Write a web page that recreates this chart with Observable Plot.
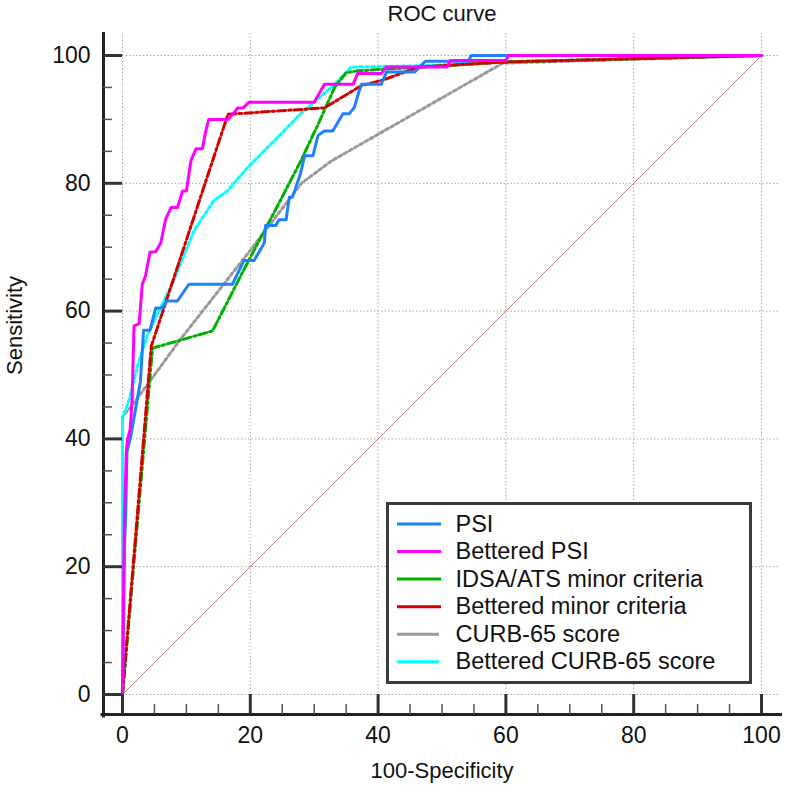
<!DOCTYPE html>
<html>
<head>
<meta charset="utf-8">
<script src="https://cdn.jsdelivr.net/npm/d3@7"></script>
<script src="https://cdn.jsdelivr.net/npm/@observablehq/plot@0.6"></script>
<style>
  body { margin: 0; background: #fff; }
  #wrap { position: relative; width: 788px; height: 786px; font-family: "Liberation Sans", Arial, sans-serif; }
  #title { margin-left: 96px; width: 692px; height: 28px; line-height: 28px; text-align: center; font-size: 22px; color: #111; }
</style>
</head>
<body>
<div id="wrap">
  <div id="title">ROC curve</div>
  <div id="chart"></div>
</div>
<script>
// ---- data (x = 100-Specificity, y = Sensitivity) ----
const psi = [[0,0],[0.3,23],[0.5,28],[0.7,38],[1.25,40.2],[2,44.4],[2.8,49],[3.3,57],[4.3,57],[5.2,60.5],[6.2,60.5],[7.0,61.6],[8.6,61.6],[10.4,64.2],[17.2,64.2],[19.0,67.9],[20.6,67.9],[22.2,70.7],[22.4,73.4],[24.0,73.4],[24.5,74.3],[25.6,74.3],[26.1,77.8],[26.6,77.8],[27.9,81.7],[28.5,84.3],[29.8,84.3],[30.6,87.5],[31.6,88.2],[32.9,88.2],[34.5,90.9],[35.5,90.9],[36.3,91.9],[36.8,93.7],[37.4,95.5],[40.5,95.5],[41.3,97.4],[45.7,97.4],[47.4,99.1],[54.1,99.1],[54.6,100],[100,100]];
const betteredPsi = [[0,0],[0.3,28],[0.6,38],[0.8,40],[1.2,41.5],[1.5,46],[1.8,57.7],[2.6,58],[3.1,64.2],[3.6,65.5],[4.3,69.2],[5.2,69.3],[6.0,70.7],[6.75,74.4],[7.6,76.2],[8.6,76.2],[9.4,78.8],[10.0,78.8],[10.7,83.5],[11.5,85.4],[12.5,85.4],[13.0,88.0],[13.5,90.0],[16.5,90.0],[17.6,91.2],[18.0,91.8],[18.9,91.8],[19.8,92.7],[30.0,92.7],[31.6,95.5],[36.1,95.5],[36.8,97.2],[40.5,97.2],[41.3,98.2],[50.8,98.2],[51.3,99.2],[60.0,99.2],[60.4,100],[100,100]];
const idsaAts = [[0,0],[4.7,54.2],[14.1,56.9],[19.0,66.5],[24.8,77.5],[27.9,83.5],[30.5,89],[33.2,95],[35.0,97.3],[36.8,97.6],[47,98.2],[60,99],[100,100]];
const betteredMinor = [[0,0],[4.5,54.5],[16.5,90.8],[31.6,91.8],[37.4,95.3],[40.9,96.2],[46.3,98.2],[60.4,99],[100,100]];
const curb65 = [[0,0],[0,43.5],[1.3,45],[2.8,47],[9,55.5],[20,69.5],[28,80],[32.7,83.5],[59.5,98.8],[100,100]];
const betteredCurb65 = [[0,0],[0,43.3],[1.0,46],[2.5,52],[4,56.5],[7.8,64.3],[11.2,72.6],[14.3,77.3],[16.4,78.8],[19.6,82.5],[23.8,86.7],[27.9,90.9],[33.2,95.5],[35.8,98.2],[47,98.4],[60,99],[100,100]];
const reference = [[0,0],[100,100]];

const xTicks = [0, 20, 40, 60, 80, 100];
const yTicks = [0, 20, 40, 60, 80, 100];
const minorTicks = [5, 10, 15, 25, 30, 35, 45, 50, 55, 65, 70, 75, 85, 90, 95];

const series = [
  {name: "PSI", data: psi, color: "#1f80ff", dash: null},
  {name: "Bettered PSI", data: betteredPsi, color: "#ff00ff", dash: null},
  {name: "IDSA/ATS minor criteria", data: idsaAts, color: "#00b000", dash: "8,3,2.5,3"},
  {name: "Bettered minor criteria", data: betteredMinor, color: "#d40000", dash: "8,3,2.5,3"},
  {name: "CURB-65 score", data: curb65, color: "#999999", dash: "3,3"},
  {name: "Bettered CURB-65 score", data: betteredCurb65, color: "#00ffff", dash: "3,3"}
];
const drawOrder = [4, 5, 2, 3, 0, 1];
const gridColor = "#a8a8a8";

const W = 788, H = 758;
const mL = 122, mR = 27, mT = 27, mB = 92;
const pw = W - mL - mR, ph = H - mT - mB;
const font = "Liberation Sans, Arial, sans-serif";

const marks = [
  // grid
  Plot.ruleY(yTicks, {y: d => d, stroke: gridColor, strokeWidth: 1, strokeDasharray: "1.5,2", insetRight: -19}),
  Plot.ruleX(xTicks, {x: d => d, stroke: gridColor, strokeWidth: 1, strokeDasharray: "1.5,2", insetTop: -22}),
  // diagonal reference
  Plot.line(reference, {x: d => d[0], y: d => d[1], stroke: "#cc7a7a", strokeWidth: 1})
];
for (const i of drawOrder) {
  const s = series[i];
  marks.push(Plot.line(s.data, {x: d => d[0], y: d => d[1], stroke: s.color, strokeWidth: 3, strokeDasharray: s.dash || undefined, strokeLinejoin: "round"}));
}
marks.push(
  // axis lines (offset from plot area)
  Plot.frame({anchor: "bottom", dy: 20, insetLeft: -20.5, insetRight: -19, stroke: "#222", strokeWidth: 3}),
  Plot.frame({anchor: "left", dx: -19, insetTop: -22, insetBottom: -21.5, stroke: "#222", strokeWidth: 3}),
  // major ticks
  Plot.ruleX(xTicks, {x: d => d, insetTop: ph, insetBottom: -20, stroke: "#333", strokeWidth: 3}),
  Plot.ruleY(yTicks, {y: d => d, insetRight: pw, insetLeft: -19, stroke: "#333", strokeWidth: 3}),
  // minor ticks
  Plot.ruleX(minorTicks, {x: d => d, insetTop: ph + 10, insetBottom: -20, stroke: "#555", strokeWidth: 1.5}),
  Plot.ruleY(minorTicks, {y: d => d, insetRight: pw + 10, insetLeft: -19, stroke: "#555", strokeWidth: 1.5}),
  // tick labels
  Plot.text(xTicks, {x: d => d, text: d => String(d), frameAnchor: "bottom", lineAnchor: "middle", dy: 41, fontSize: 23, fill: "#111"}),
  Plot.text(yTicks, {y: d => d, text: d => String(d), frameAnchor: "left", lineAnchor: "middle", dx: -32, textAnchor: "end", fontSize: 23, fill: "#111"}),
  // axis titles
  Plot.text(["100-Specificity"], {text: d => d, frameAnchor: "bottom", lineAnchor: "middle", dy: 76, fontSize: 22, fill: "#111"}),
  Plot.text(["Sensitivity"], {text: d => d, frameAnchor: "left", lineAnchor: "middle", dx: -108, rotate: -90, fontSize: 22, fill: "#111"}),
  // legend box
  Plot.frame({insetLeft: 265, insetRight: 11, insetTop: 448, insetBottom: 12, fill: "#fff", stroke: "#3a3a3a", strokeWidth: 3})
);
// legend entries
series.forEach((s, i) => {
  const rowY = 468.5 + i * 27.55;
  marks.push(
    Plot.frame({anchor: "top", insetLeft: 276, insetRight: 322, insetTop: rowY, stroke: s.color, strokeWidth: 3, strokeDasharray: s.dash || undefined}),
    Plot.text([s.name], {text: d => d, frameAnchor: "top-left", lineAnchor: "middle", dx: 333, dy: rowY, textAnchor: "start", fontSize: 23.5, fill: "#111"})
  );
});

const chart = Plot.plot({
  width: W, height: H,
  marginLeft: mL, marginRight: mR, marginTop: mT, marginBottom: mB,
  x: {domain: [0, 100], axis: null},
  y: {domain: [0, 100], axis: null},
  style: {fontFamily: font, background: "#fff", overflow: "visible"},
  marks
});
document.getElementById("chart").appendChild(chart);
</script>
</body>
</html>
